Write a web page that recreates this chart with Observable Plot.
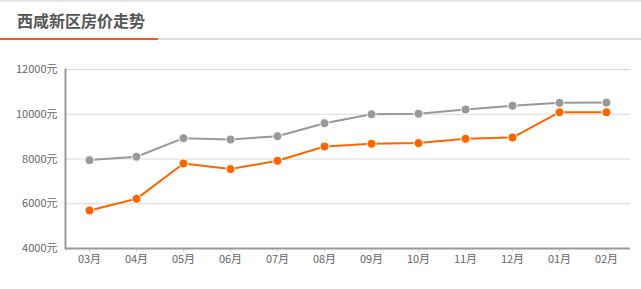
<!DOCTYPE html>
<html><head><meta charset="utf-8">
<script src="https://cdn.jsdelivr.net/npm/d3@7"></script>
<script src="https://cdn.jsdelivr.net/npm/@observablehq/plot@0.6"></script>
<style>
body{margin:0;background:#fff;font-family:"Noto Sans CJK SC","Noto Sans",sans-serif;}
#wrap{width:641px;}
#head{position:relative;height:40px;border-top:2px solid #e6e6e6;box-sizing:border-box;}
#title{position:absolute;left:17px;top:8px;font-size:16px;font-weight:bold;color:#555;line-height:20px;}
#bar{position:absolute;left:0;right:0;bottom:0;height:2px;background:#ddd;}
#bar span{position:absolute;left:0;top:0;width:158px;height:2px;background:#f25a29;}
svg{display:block;}
</style></head>
<body><div id="wrap">
<div id="head"><div id="title">西咸新区房价走势</div><div id="bar"><span></span></div></div>
<div id="chart"></div>
</div>
<script>
const months = ["03月","04月","05月","06月","07月","08月","09月","10月","11月","12月","01月","02月"];
const grayValues = [7950,8100,8930,8870,9020,9600,10000,10020,10210,10380,10510,10520];
const orangeValues = [5700,6220,7800,7550,7920,8560,8680,8710,8900,8960,10090,10090];
const yTicks = [4000,6000,8000,10000,12000];
const grayColor = "#999999";
const orangeColor = "#ff6600";

const grayData = months.map((m,i)=>({month:m, value:grayValues[i]}));
const orangeData = months.map((m,i)=>({month:m, value:orangeValues[i]}));

const chart = Plot.plot({
  width:641, height:249,
  marginTop:29, marginBottom:41, marginLeft:65, marginRight:11,
  style:{fontFamily:'"Noto Sans CJK SC","Noto Sans",sans-serif', fontSize:"11px", color:"#666"},
  x:{type:"point", domain:months, padding:0.5, label:null},
  y:{domain:[4000,12000], label:null},
  marks:[
    Plot.gridY(yTicks,{stroke:"#d9d9d9", strokeOpacity:1}),
    Plot.axisY(yTicks,{tickSize:0, tickPadding:8, tickFormat:d=>d+"元", fill:"#666", fontSize:11}),
    Plot.axisX({tickSize:4, tickPadding:3, stroke:"#c8d8e8", fill:"#666", fontSize:11}),
    Plot.ruleY([4000],{stroke:"#999", strokeWidth:2}),
    Plot.frame({anchor:"left", stroke:"#999", strokeWidth:2}),
    Plot.line(grayData,{x:"month", y:"value", stroke:grayColor, strokeWidth:2}),
    Plot.dot(grayData,{x:"month", y:"value", fill:grayColor, stroke:"#fff", strokeWidth:1, r:4.5}),
    Plot.line(orangeData,{x:"month", y:"value", stroke:orangeColor, strokeWidth:2}),
    Plot.dot(orangeData,{x:"month", y:"value", fill:orangeColor, stroke:"#fff", strokeWidth:1, r:4.5})
  ]
});
document.getElementById("chart").appendChild(chart);
</script>
</body></html>
